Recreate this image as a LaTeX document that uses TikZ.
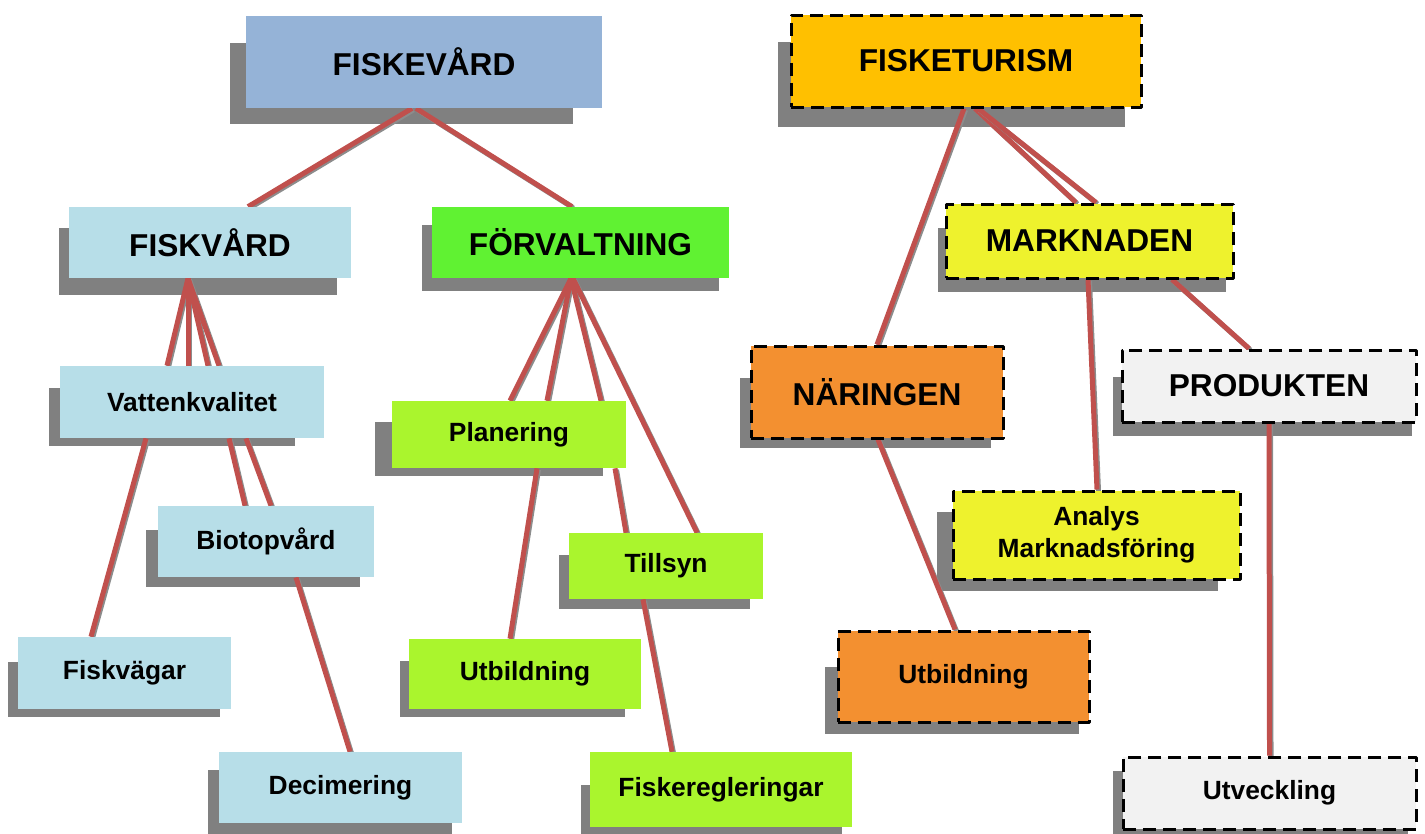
\documentclass[tikz,border=0pt]{standalone}
\usepackage{fontspec}
\setmainfont{Liberation Sans}
\usetikzlibrary{backgrounds}

% box colours
\definecolor{blaagraa}{RGB}{149,179,215}
\definecolor{ljusblaa}{RGB}{183,222,232}
\definecolor{klargron}{RGB}{96,242,50}
\definecolor{limegron}{RGB}{170,245,45}
\definecolor{guldgul}{RGB}{255,192,0}
\definecolor{citrongul}{RGB}{238,242,45}
\definecolor{orange}{RGB}{243,144,48}
\definecolor{ljusgraa}{RGB}{242,242,242}
\definecolor{skuggfarg}{RGB}{128,128,128}
\definecolor{linjerod}{RGB}{192,80,77}
\definecolor{linjeskugga}{RGB}{140,140,140}

\begin{document}
\begin{tikzpicture}[x=0.02cm, y=-0.02cm, line join=round,
    ruta/.style={rectangle, inner sep=0pt, align=center,
        font=\bfseries\fontsize{15}{18}\selectfont},
    stor/.style={font=\bfseries\fontsize{18}{21}\selectfont},
    storlek/.style 2 args={minimum width=#1*0.02cm, minimum height=#2*0.02cm},
    stiplad/.style={draw=black, line width=0.06cm, dash pattern=on 0.26cm off 0.14cm},
    skugga/.style={fill=skuggfarg},
    gren/.style={draw=linjerod, line width=0.1cm,
        preaction={draw=linjeskugga, line width=0.1cm,
            transform canvas={shift={(1.5,1.5)}}}}]

    \useasboundingbox (0,0) rectangle (1425,833);

    % --- TOP LEVEL ---
    \node[ruta, stor, fill=blaagraa, storlek={356}{92}] (fiskevard) at (424,62) {FISKEVÅRD};
    \node[ruta, stor, fill=guldgul, stiplad, storlek={350}{92}] (fisketurism) at (966,61) {FISKETURISM};

    % --- SECOND LEVEL ---
    \node[ruta, stor, fill=ljusblaa, storlek={282}{71}] (fiskvard) at (210,242.5) {FISKVÅRD};
    \node[ruta, stor, fill=klargron, storlek={297}{71}] (forvaltning) at (580.5,242.5) {FÖRVALTNING};
    \node[ruta, stor, fill=citrongul, stiplad, storlek={287}{74}] (marknaden) at (1089.5,241) {MARKNADEN};
    \node[ruta, stor, fill=orange, stiplad, storlek={252}{92}] (naringen) at (877,392) {NÄRINGEN};
    \node[ruta, stor, fill=ljusgraa, stiplad, storlek={294}{72}] (produkten) at (1269,386) {PRODUKTEN};

    % --- FISKVÅRD BRANCH ---
    \node[ruta, fill=ljusblaa, storlek={264}{72}] (vatten) at (192,402) {Vattenkvalitet};
    \node[ruta, fill=ljusblaa, storlek={216}{71}] (biotop) at (266,541.5) {Biotopvård};
    \node[ruta, fill=ljusblaa, storlek={213}{72}] (fiskvagar) at (124.5,673) {Fiskvägar};
    \node[ruta, fill=ljusblaa, storlek={243}{71}] (decimering) at (340.5,787.5) {Decimering};

    % --- FÖRVALTNING BRANCH ---
    \node[ruta, fill=limegron, storlek={234}{67}] (planering) at (509,434.5) {Planering};
    \node[ruta, fill=limegron, storlek={194}{66}] (tillsyn) at (666,566) {Tillsyn};
    \node[ruta, fill=limegron, storlek={232}{70}] (utbildA) at (525,674) {Utbildning};
    \node[ruta, fill=limegron, storlek={262}{75}] (fiskeregl) at (721,789.5) {Fiskeregleringar};

    % --- FISKETURISM BRANCH ---
    \node[ruta, fill=citrongul, stiplad, storlek={287}{88}] (analys) at (1096.5,535) {Analys\\Marknadsföring};
    \node[ruta, fill=orange, stiplad, storlek={251}{91}] (utbildB) at (963.5,676.5) {Utbildning};
    \node[ruta, fill=ljusgraa, stiplad, storlek={293}{72}] (utveckling) at (1269.5,793) {Utveckling};

    \begin{scope}[on background layer]
        % shadows: left/top/right/bottom offsets of the grey block
        \foreach \n/\a/\b/\c/\d in {fiskevard/-16/27/-29/16, fisketurism/-12/28/-18/18,
            fiskvard/-10/21/-14/17, forvaltning/-10/18/-10/13, marknaden/-7/25/-9/12,
            naringen/-10/33/-14/8, produkten/-8/28/-6/12, vatten/-11/22/-29/8,
            biotop/-12/24/-14/10, fiskvagar/-10/25/-11/8, decimering/-11/18/-10/12,
            planering/-17/21/-23/8, tillsyn/-10/22/-13/10, utbildA/-9/22/-16/8,
            fiskeregl/-9/33/-10/8, analys/-15/22/-24/10, utbildB/-12/37/-12/10,
            utveckling/-9/15/-10/8}
            \fill[skugga] ([shift={(\a,\b)}]\n.north west) rectangle ([shift={(\c,\d)}]\n.south east);

        % --- CONNECTORS ---
        \draw[gren] ([shift={(-12,0)}]fiskevard.south) -- ([shift={(38,0)}]fiskvard.north);
        \draw[gren] ([shift={(-8,0)}]fiskevard.south) -- ([shift={(-8.5,0)}]forvaltning.north);

        % FISKVÅRD to Vattenkvalitet, four strands
        \foreach \s in {-25,-4,16,27}
            \draw[gren] ([shift={(-22,0)}]fiskvard.south) -- ([shift={(\s,0)}]vatten.north);
        \draw[gren] ([shift={(-46,0)}]vatten.south) -- ([shift={(-33.5,0)}]fiskvagar.north);
        \draw[gren] ([shift={(37,0)}]vatten.south) -- ([shift={(-21,0)}]biotop.north);
        \draw[gren] ([shift={(54,0)}]vatten.south) -- ([shift={(5,0)}]biotop.north);
        \draw[gren] ([shift={(30,0)}]biotop.south) -- ([shift={(9.5,0)}]decimering.north);

        % FÖRVALTNING to Planering, three strands
        \foreach \s in {1,38,92}
            \draw[gren] ([shift={(-9.5,0)}]forvaltning.south) -- ([shift={(\s,0)}]planering.north);
        \draw[gren] ([shift={(-7.5,0)}]forvaltning.south) -- ([shift={(31,0)}]tillsyn.north);
        \draw[gren] ([shift={(28,0)}]planering.south) -- ([shift={(-15,0)}]utbildA.north);
        \draw[gren] ([shift={(106,0)}]planering.south) -- ([shift={(-40,0)}]tillsyn.north);
        \draw[gren] ([shift={(-23,0)}]tillsyn.south) -- ([shift={(-49,0)}]fiskeregl.north);

        % FISKETURISM side
        \draw[gren] ([shift={(-2,0)}]fisketurism.south) -- (naringen.north);
        \draw[gren] ([shift={(9,0)}]fisketurism.south) -- ([shift={(-13.5,0)}]marknaden.north);
        \draw[gren] ([shift={(12,0)}]fisketurism.south) -- ([shift={(6.5,0)}]marknaden.north);
        \draw[gren] ([shift={(-1.5,0)}]marknaden.south) -- ([shift={(0.5,0)}]analys.north);
        \draw[gren] ([shift={(82.5,0)}]marknaden.south) -- ([shift={(-20,0)}]produkten.north);
        \draw[gren] ([shift={(1,0)}]naringen.south) -- ([shift={(-8.5,0)}]utbildB.north);
        \draw[gren] (produkten.south) -- (utveckling.north);
    \end{scope}

\end{tikzpicture}
\end{document}
